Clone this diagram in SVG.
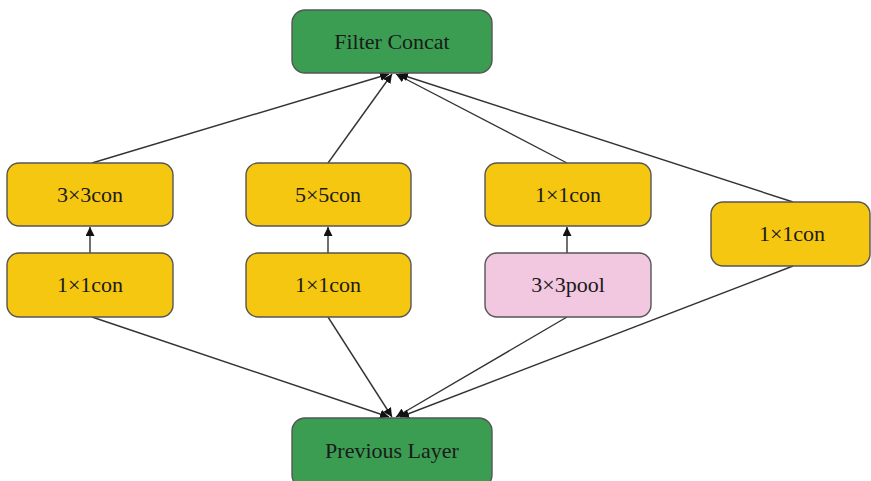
<svg xmlns="http://www.w3.org/2000/svg" width="871" height="481" viewBox="0 0 871 481">
  <style>
    .box { stroke: #555; stroke-width: 1.4; }
    .green { fill: #3b9d52; }
    .yellow { fill: #f6c710; }
    .pink { fill: #f2c7e0; }
    .label { font-family: "Liberation Serif", "Times New Roman", serif; font-size: 22px; fill: #1a1a1a; text-anchor: middle; }
    .edge { stroke: #333; stroke-width: 1.4; fill: none; marker-end: url(#arrow); }
  </style>
  <defs>
    <marker id="arrow" viewBox="0 0 10 10" refX="10" refY="5" markerWidth="9" markerHeight="9" markerUnits="userSpaceOnUse" orient="auto">
      <path d="M0,0 L10,5 L0,10 z" fill="#111"/>
    </marker>
  </defs>
  <rect width="871" height="481" fill="#fff"/>

  <g id="connectors">
    <!-- into Filter Concat -->
    <line class="edge" x1="92" y1="163" x2="389" y2="74"/>
    <line class="edge" x1="328" y1="163" x2="392" y2="74"/>
    <line class="edge" x1="567" y1="163" x2="396" y2="74"/>
    <line class="edge" x1="793" y1="202" x2="399" y2="74"/>
    <!-- vertical links within branches -->
    <line class="edge" x1="90" y1="253" x2="90" y2="227"/>
    <line class="edge" x1="328" y1="253" x2="328" y2="227"/>
    <line class="edge" x1="567" y1="253" x2="567" y2="227"/>
    <!-- from branches to Previous Layer -->
    <line class="edge" x1="92" y1="317" x2="389" y2="417"/>
    <line class="edge" x1="328" y1="317" x2="392" y2="417"/>
    <line class="edge" x1="567" y1="317" x2="396" y2="417"/>
    <line class="edge" x1="793" y1="266" x2="400" y2="417"/>
  </g>

  <g id="filter-concat">
    <rect class="box green" x="292" y="10" width="200" height="63" rx="13"/>
    <text class="label" x="392" y="49">Filter Concat</text>
  </g>

  <g id="conv3x3">
    <rect class="box yellow" x="7" y="163" width="166" height="63" rx="12"/>
    <text class="label" x="90" y="202">3×3con</text>
  </g>
  <g id="conv1x1-a">
    <rect class="box yellow" x="7" y="253" width="166" height="64" rx="12"/>
    <text class="label" x="90" y="292">1×1con</text>
  </g>

  <g id="conv5x5">
    <rect class="box yellow" x="246" y="163" width="165" height="63" rx="12"/>
    <text class="label" x="328" y="202">5×5con</text>
  </g>
  <g id="conv1x1-b">
    <rect class="box yellow" x="246" y="253" width="165" height="64" rx="12"/>
    <text class="label" x="328" y="292">1×1con</text>
  </g>

  <g id="conv1x1-c">
    <rect class="box yellow" x="485" y="163" width="166" height="63" rx="12"/>
    <text class="label" x="568" y="202">1×1con</text>
  </g>
  <g id="pool3x3">
    <rect class="box pink" x="485" y="253" width="166" height="64" rx="12"/>
    <text class="label" x="568" y="292">3×3pool</text>
  </g>

  <g id="conv1x1-d">
    <rect class="box yellow" x="711" y="202" width="159" height="64" rx="12"/>
    <text class="label" x="792" y="241">1×1con</text>
  </g>

  <g id="previous-layer">
    <rect class="box green" x="292" y="418" width="200" height="70" rx="13"/>
    <text class="label" x="392" y="458">Previous Layer</text>
  </g>
</svg>
